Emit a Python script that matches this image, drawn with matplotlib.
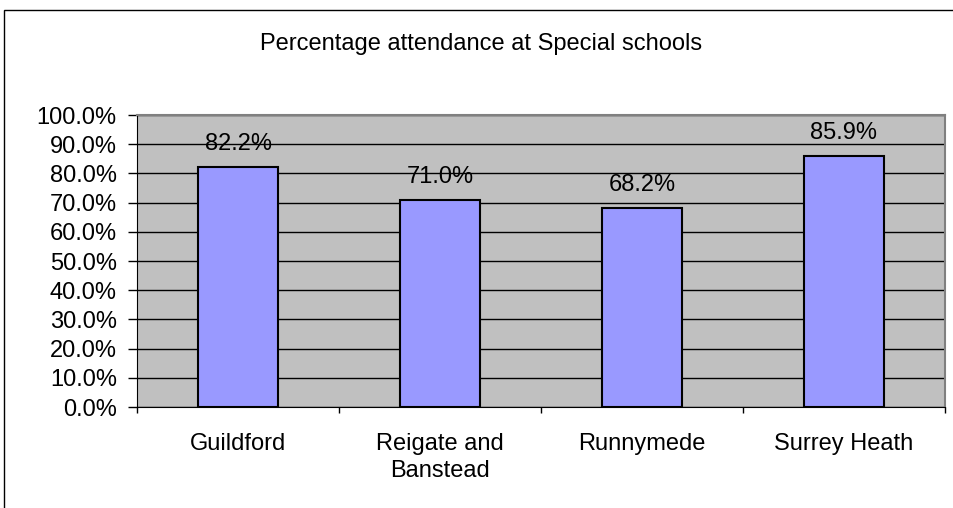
import matplotlib.pyplot as plt
from matplotlib.patches import Rectangle
from matplotlib.ticker import FuncFormatter, MultipleLocator

plt.rcParams['font.family'] = ['Liberation Sans', 'DejaVu Sans']
FS = 17

districts = ['Guildford', 'Reigate and\nBanstead', 'Runnymede', 'Surrey Heath']
attendance = [82.2, 71.0, 68.2, 85.9]

fig = plt.figure(figsize=(9.54, 5.08), dpi=100)
ax = fig.add_axes([137 / 954, 1 - 407 / 508, 808 / 954, 292 / 508])

# outer chart frame, cut off at the right and bottom
fig.patches.append(Rectangle((4 / 954, -0.1), 1.1, 1 - 10 / 508 + 0.1,
                             transform=fig.transFigure, fill=False,
                             edgecolor='black', linewidth=1.0))

fig.text(481 / 954, 1 - 44 / 508, 'Percentage attendance at Special schools',
         ha='center', va='center', fontsize=FS)

ax.set_facecolor('#C0C0C0')
x = list(range(len(districts)))
ax.bar(x, attendance, width=0.4, color='#9999FF',
       edgecolor='black', linewidth=1.5, zorder=3)
for xi, v in zip(x, attendance):
    ax.annotate(f'{v:.1f}%', (xi, v), xytext=(0, 8.5), textcoords='offset points',
                ha='center', va='bottom', fontsize=FS, zorder=4)

ax.set_xlim(-0.5, len(districts) - 0.5)
ax.set_ylim(0, 100)
ax.yaxis.set_major_locator(MultipleLocator(10))
ax.yaxis.set_major_formatter(FuncFormatter(lambda v, p: f'{v:.1f}%'))
ax.grid(axis='y', color='black', linewidth=1.0, zorder=1)
ax.set_axisbelow(True)

ax.set_xticks(x)
ax.set_xticklabels(districts, fontsize=FS, linespacing=1.3, va='top')
ax.set_xticks([i + 0.5 for i in range(-1, len(districts))], minor=True)
ax.tick_params(axis='x', which='major', length=0, pad=19)
ax.tick_params(axis='x', which='minor', length=4.5, width=1, direction='out')
ax.tick_params(axis='y', length=6.5, width=1, direction='out', labelsize=FS, pad=8)

for side in ['top', 'right']:
    ax.spines[side].set_color('#808080')
    ax.spines[side].set_linewidth(1.5)
ax.spines['left'].set_color('black')
ax.spines['bottom'].set_color('black')

fig.savefig('out.png', dpi=100)
